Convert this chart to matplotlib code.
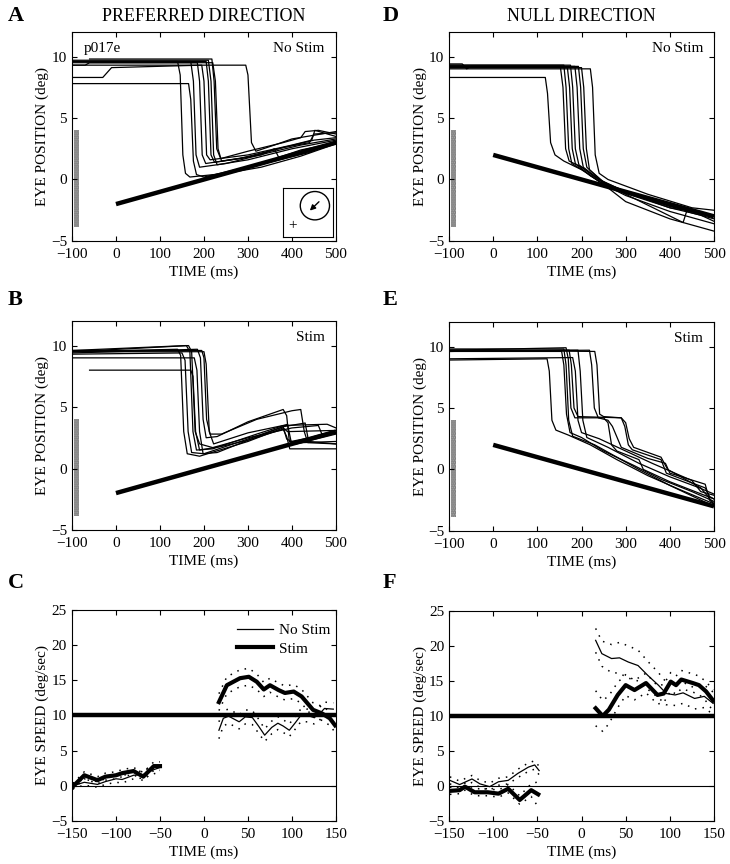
import matplotlib
matplotlib.use("Agg")
import matplotlib.pyplot as plt
from matplotlib.patches import Circle, Rectangle

plt.rcParams["font.family"] = ["Liberation Serif", "DejaVu Serif"]
plt.rcParams["font.size"] = 11
plt.rcParams["axes.linewidth"] = 0.8
plt.rcParams["xtick.direction"] = "in"
plt.rcParams["ytick.direction"] = "in"
plt.rcParams["xtick.top"] = True
plt.rcParams["ytick.right"] = True
plt.rcParams["xtick.major.pad"] = 5
plt.rcParams["hatch.linewidth"] = 1.2

# ---- eye position traces, knots (time ms, position deg) ----
A_TRACES = [
    [(-100, 9.6), (140, 9.6), (146, 8.5), (152, 2.0), (158, 0.5), (168, 0.2), (250, 0.5), (330, 1.0), (420, 1.9), (500, 2.9)],
    [(-100, 7.8), (165, 7.8), (170, 6.5), (176, 1.5), (183, 0.4), (200, 0.2), (260, 0.7), (360, 1.5), (440, 2.2), (500, 3.1)],
    [(-100, 9.6), (170, 9.6), (176, 8.0), (182, 2.0), (190, 1.0), (250, 1.3), (350, 2.2), (420, 2.8), (500, 3.3)],
    [(-100, 9.3), (-70, 9.3), (-60, 9.5), (185, 9.5), (190, 8.0), (196, 2.0), (204, 1.3), (280, 1.7), (380, 2.6), (440, 3.0), (450, 3.7), (500, 3.8)],
    [(-100, 8.3), (-30, 8.3), (-10, 9.1), (195, 9.3), (200, 8.0), (206, 2.0), (214, 1.6), (300, 2.0), (400, 2.8), (445, 3.2), (452, 4.0), (500, 3.5)],
    [(-100, 9.6), (205, 9.6), (210, 8.0), (216, 2.0), (224, 1.4), (300, 1.8), (380, 2.6), (450, 3.2), (500, 3.4)],
    [(-100, 9.7), (210, 9.7), (216, 8.0), (222, 2.0), (230, 1.2), (300, 1.6), (400, 2.5), (500, 3.2)],
    [(-60, 9.8), (218, 9.8), (223, 8.0), (229, 2.5), (238, 1.7), (300, 2.3), (380, 3.0), (420, 3.4), (430, 3.9), (460, 4.0), (500, 3.7)],
    [(-100, 9.3), (295, 9.3), (300, 8.5), (308, 3.0), (318, 2.3), (360, 2.8), (400, 3.3), (500, 3.9)],
    [(-100, 9.5), (220, 9.5), (226, 8.0), (232, 2.5), (240, 1.5), (330, 2.0), (360, 2.5), (370, 1.8), (420, 2.4), (500, 3.0)],
]

B_TRACES = [
    [(-100, 9.5), (140, 9.7), (147, 9.2), (154, 3.0), (162, 1.2), (190, 1.0), (300, 2.2), (380, 3.3), (390, 3.0), (500, 3.1)],
    [(-100, 9.3), (150, 9.4), (157, 8.8), (164, 3.0), (172, 1.3), (200, 1.2), (300, 2.4), (380, 3.4), (388, 2.4), (410, 2.0), (500, 2.8)],
    [(-100, 9.6), (160, 10.0), (168, 9.5), (175, 3.0), (183, 1.5), (220, 1.6), (320, 2.8), (390, 3.6), (398, 2.2), (440, 2.5), (500, 3.1)],
    [(-100, 9.5), (165, 10.0), (172, 9.5), (180, 3.0), (190, 2.0), (220, 1.7), (300, 2.5), (400, 3.3), (460, 3.5), (468, 2.8), (500, 2.9)],
    [(-60, 8.0), (170, 8.0), (175, 7.5), (181, 3.0), (190, 1.5), (240, 1.8), (300, 2.3), (380, 3.2), (388, 2.6), (395, 1.6), (500, 1.6)],
    [(-100, 9.0), (178, 9.0), (184, 8.0), (190, 3.0), (198, 1.2), (230, 1.3), (300, 2.3), (380, 3.4), (430, 3.7), (438, 2.2), (500, 2.0)],
    [(-100, 9.4), (185, 9.7), (192, 9.0), (198, 4.0), (205, 2.5), (230, 2.6), (300, 3.8), (380, 4.8), (388, 4.3), (394, 2.2), (420, 2.1), (500, 2.2)],
    [(-100, 9.6), (195, 9.6), (200, 9.0), (206, 4.0), (214, 2.8), (240, 2.8), (320, 4.0), (400, 4.7), (420, 4.8), (428, 3.0), (436, 2.1), (500, 2.0)],
    [(-100, 9.5), (200, 9.5), (205, 8.5), (212, 3.0), (222, 2.0), (300, 2.9), (380, 3.5), (480, 3.6), (500, 3.3)],
]

D_TRACES = [
    [(-100, 8.3), (118, 8.3), (123, 7.0), (130, 3.0), (140, 2.0), (160, 1.5), (200, 0.8), (250, -0.4), (300, -1.3), (400, -2.6), (500, -3.6)],
    [(-100, 9.2), (152, 9.2), (158, 7.5), (164, 2.5), (172, 1.5), (200, 1.0), (240, 0.0), (300, -1.0), (400, -2.2), (500, -3.0)],
    [(-100, 9.3), (160, 9.3), (165, 7.5), (171, 2.5), (178, 1.3), (210, 0.6), (250, -0.4), (300, -1.8), (400, -3.2), (500, -4.2)],
    [(-100, 9.1), (168, 9.1), (173, 7.5), (179, 2.5), (186, 1.3), (220, 0.3), (260, -0.6), (350, -1.6), (430, -2.4), (500, -3.0)],
    [(-100, 9.4), (-70, 9.4), (-60, 9.0), (-50, 9.2), (185, 9.2), (190, 7.5), (196, 2.5), (204, 1.0), (240, 0.0), (300, -1.2), (430, -3.5), (438, -2.6), (500, -3.2)],
    [(-100, 9.2), (193, 9.2), (198, 7.5), (204, 2.5), (212, 1.0), (250, -0.3), (350, -1.6), (450, -2.6), (500, -2.9)],
    [(-100, 9.0), (220, 9.0), (225, 7.5), (231, 2.0), (240, 0.5), (260, 0.0), (350, -1.2), (450, -2.3), (500, -2.5)],
    [(-100, 9.3), (175, 9.3), (180, 7.5), (186, 2.5), (194, 1.2), (230, 0.2), (280, -0.9), (400, -2.3), (500, -2.9)],
    [(-100, 9.1), (200, 9.1), (205, 7.5), (211, 2.5), (218, 0.8), (250, -0.2), (300, -1.0), (400, -2.3), (470, -2.9), (500, -3.4)],
]

E_TRACES = [
    [(-100, 8.9), (122, 9.0), (127, 8.0), (133, 4.0), (142, 3.2), (170, 2.8), (220, 2.0), (280, 0.8), (350, -0.5), (420, -1.6), (500, -2.8)],
    [(-100, 9.6), (155, 9.6), (160, 8.5), (166, 4.5), (174, 3.0), (200, 2.6), (250, 1.5), (320, 0.3), (380, -0.8), (450, -1.8), (500, -2.6)],
    [(-100, 9.7), (165, 9.9), (170, 9.0), (176, 5.0), (185, 4.2), (250, 4.2), (260, 3.8), (268, 2.0), (280, 1.5), (330, 0.8), (340, 0.0), (400, -1.0), (500, -2.4)],
    [(-100, 9.6), (172, 9.7), (177, 8.5), (183, 5.0), (192, 4.3), (290, 4.2), (298, 3.5), (306, 2.0), (315, 1.6), (380, 0.8), (392, -0.3), (480, -1.5), (490, -2.2), (500, -2.4)],
    [(-100, 9.0), (180, 9.1), (186, 8.0), (192, 4.0), (200, 3.0), (240, 2.5), (300, 1.5), (360, 0.5), (450, -0.9), (470, -1.8), (500, -2.1)],
    [(-100, 9.7), (192, 9.7), (197, 8.0), (203, 4.0), (212, 2.6), (260, 1.8), (330, 0.5), (400, -0.6), (460, -1.4), (500, -2.0)],
    [(-100, 9.6), (218, 9.7), (223, 8.5), (229, 5.0), (238, 4.2), (260, 4.0), (270, 3.5), (290, 1.8), (350, 0.9), (390, 0.5), (400, -0.3), (480, -1.2), (490, -2.5), (500, -2.8)],
    [(-100, 9.7), (230, 9.6), (235, 8.5), (241, 4.5), (250, 4.3), (290, 4.2), (300, 3.8), (308, 2.5), (318, 1.8), (380, 1.0), (395, 0.0), (470, -1.5), (500, -2.8)],
    [(-100, 9.8), (160, 9.8), (165, 8.5), (171, 4.0), (180, 2.7), (230, 2.0), (280, 1.0), (330, 0.0), (400, -1.3), (500, -3.0)],
]

# target trajectories (time, position)
PREF_TARGET = [(0, -2.0), (500, 3.0)]
NULL_TARGET = [(0, 2.0), (500, -3.0)]

# ---- eye speed, panel C (preferred) ----
C_PRE_T = [-149, -136, -121, -112, -100, -93, -80, -69, -57, -50]
C_PRE_STIM = [-0.1, 1.5, 0.8, 1.3, 1.5, 1.8, 2.1, 1.3, 2.8, 2.8]
C_PRE_STIM_SE = [0.4, 0.5, 0.5, 0.5, 0.5, 0.5, 0.5, 0.6, 0.6, 0.6]
C_PRE_NOSTIM = [0.0, 0.5, 0.2, 0.6, 1.0, 0.9, 1.5, 1.6, 2.3, 2.6]
C_PRE_NOSTIM_SE = [0.4, 0.4, 0.4, 0.4, 0.5, 0.5, 0.5, 0.5, 0.6, 0.6]

C_POST_STIM_T = [17, 26, 41, 51, 60, 68, 75, 85, 92, 102, 111, 124, 134, 143, 149]
C_POST_STIM = [11.9, 14.3, 15.3, 15.5, 14.8, 13.7, 14.3, 13.6, 13.2, 13.4, 12.7, 10.8, 10.3, 9.6, 8.6]
C_POST_STIM_SE = [1.2, 1.2, 1.2, 1.2, 1.1, 1.0, 1.0, 1.0, 1.0, 1.0, 1.0, 1.0, 1.0, 1.0, 1.0]
C_POST_NOSTIM_T = [17, 22, 28, 34, 40, 47, 55, 62, 69, 77, 84, 90, 97, 104, 110, 118, 125, 131, 137, 147]
C_POST_NOSTIM = [7.9, 9.6, 9.9, 9.5, 9.1, 9.8, 9.7, 8.5, 7.2, 8.3, 8.9, 8.5, 7.9, 9.0, 10.0, 10.0, 9.7, 10.2, 11.0, 10.9]
C_POST_NOSTIM_SE = [1.2, 1.1, 1.0, 1.0, 1.0, 1.0, 1.0, 1.0, 0.9, 0.9, 0.9, 0.9, 0.9, 0.9, 0.9, 0.9, 0.9, 0.9, 0.9, 0.9]

# ---- eye speed, panel F (null) ----
F_PRE_STIM_T = [-149, -138, -132, -121, -106, -94, -83, -70, -57, -49]
F_PRE_STIM = [-0.7, -0.6, -0.1, -0.9, -0.9, -1.1, -0.4, -2.0, -0.6, -1.2]
F_PRE_STIM_SE = [0.5, 0.5, 0.5, 0.5, 0.5, 0.5, 0.6, 0.6, 0.9, 1.8]
F_PRE_NOSTIM_T = [-149, -138, -124, -115, -104, -94, -83, -72, -60, -53, -48]
F_PRE_NOSTIM = [0.8, 0.2, 1.0, 0.3, -0.1, 0.6, 0.8, 1.8, 2.7, 3.0, 2.2]
F_PRE_NOSTIM_SE = [0.5, 0.5, 0.5, 0.5, 0.5, 0.5, 0.5, 0.6, 0.6, 0.6, 0.6]

F_POST_STIM_T = [16, 24, 31, 41, 50, 60, 73, 86, 93, 101, 107, 113, 126, 133, 141, 149]
F_POST_STIM = [11.1, 10.0, 10.9, 13.0, 14.4, 13.7, 14.7, 13.0, 13.2, 14.9, 14.4, 15.2, 14.7, 14.4, 13.5, 12.2]
F_POST_STIM_SE = [2.5, 2.2, 2.0, 1.8, 1.5, 1.4, 1.4, 1.3, 1.3, 1.3, 1.3, 1.3, 1.3, 1.3, 1.4, 1.5]
F_POST_NOSTIM_T = [16, 23, 34, 43, 53, 64, 75, 87, 96, 106, 115, 128, 139, 149]
F_POST_NOSTIM = [20.8, 18.9, 18.2, 18.3, 17.7, 17.2, 15.8, 14.4, 13.2, 13.0, 13.3, 12.5, 12.8, 11.8]
F_POST_NOSTIM_SE = [1.7, 1.8, 2.0, 2.2, 2.3, 2.2, 2.0, 1.8, 1.6, 1.5, 1.5, 1.5, 1.6, 1.6]

TARGET_SPEED = 10.0
POS_XTICKS = [-100, 0, 100, 200, 300, 400, 500]
POS_YTICKS = [-5, 0, 5, 10]
SPD_XTICKS = [-150, -100, -50, 0, 50, 100, 150]
SPD_YTICKS = [-5, 0, 5, 10, 15, 20, 25]

DOTS = (0, (1, 4))


def draw_position(ax, traces, target, corner_text, tag=None):
    # stippled bar marking the stimulation epoch
    ax.add_patch(Rectangle((-96, -3.9), 11, 7.9, facecolor="#d0d0d0",
                           edgecolor="#555555", hatch="........", linewidth=0))
    for tr in traces:
        ax.plot([p[0] for p in tr], [p[1] for p in tr], color="black", lw=0.9)
    ax.plot([p[0] for p in target], [p[1] for p in target], color="black",
            lw=3.2, solid_capstyle="butt")
    ax.set_xlim(-100, 500)
    ax.set_ylim(-5, 12)
    ax.set_xticks(POS_XTICKS)
    ax.set_yticks(POS_YTICKS)
    ax.set_xlabel("TIME (ms)", labelpad=3)
    ax.set_ylabel("EYE POSITION (deg)", labelpad=1)
    ax.text(0.958, 0.923, corner_text, transform=ax.transAxes,
            ha="right", va="center")
    if tag:
        ax.text(0.046, 0.923, tag, transform=ax.transAxes,
                ha="left", va="center")


def draw_speed_series(ax, t, mean, se, lw):
    ax.plot(t, mean, color="black", lw=lw)
    ax.plot(t, [m + s for m, s in zip(mean, se)], color="black", lw=1.1, ls=DOTS)
    ax.plot(t, [m - s for m, s in zip(mean, se)], color="black", lw=1.1, ls=DOTS)


def draw_speed(ax, pre_nostim, pre_stim, post_nostim, post_stim):
    ax.axhline(0, color="black", lw=0.8)
    ax.axhline(TARGET_SPEED, color="black", lw=3.2)
    for t, m, s in (pre_nostim, post_nostim):
        draw_speed_series(ax, t, m, s, 0.9)
    for t, m, s in (pre_stim, post_stim):
        draw_speed_series(ax, t, m, s, 3.0)
    ax.set_xlim(-150, 150)
    ax.set_ylim(-5, 25)
    ax.set_xticks(SPD_XTICKS)
    ax.set_yticks(SPD_YTICKS)
    ax.set_xlabel("TIME (ms)", labelpad=3)
    ax.set_ylabel("EYE SPEED (deg/sec)", labelpad=1)


fig = plt.figure(figsize=(7.3, 8.64), dpi=100)

L1, L2 = 0.0986, 0.6151
W1, W2 = 0.3616, 0.363
axA = fig.add_axes([L1, 0.7211, W1, 0.2419])
axB = fig.add_axes([L1, 0.3866, W1, 0.2419])
axC = fig.add_axes([L1, 0.0498, W1, 0.2442])
axD = fig.add_axes([L2, 0.7211, W2, 0.2419])
axE = fig.add_axes([L2, 0.3855, W2, 0.2419])
axF = fig.add_axes([L2, 0.0498, W2, 0.2431])

draw_position(axA, A_TRACES, PREF_TARGET, "No Stim", tag="p017e")
draw_position(axB, B_TRACES, PREF_TARGET, "Stim")
draw_position(axD, D_TRACES, NULL_TARGET, "No Stim")
draw_position(axE, E_TRACES, NULL_TARGET, "Stim")

draw_speed(axC,
           (C_PRE_T, C_PRE_NOSTIM, C_PRE_NOSTIM_SE),
           (C_PRE_T, C_PRE_STIM, C_PRE_STIM_SE),
           (C_POST_NOSTIM_T, C_POST_NOSTIM, C_POST_NOSTIM_SE),
           (C_POST_STIM_T, C_POST_STIM, C_POST_STIM_SE))
draw_speed(axF,
           (F_PRE_NOSTIM_T, F_PRE_NOSTIM, F_PRE_NOSTIM_SE),
           (F_PRE_STIM_T, F_PRE_STIM, F_PRE_STIM_SE),
           (F_POST_NOSTIM_T, F_POST_NOSTIM, F_POST_NOSTIM_SE),
           (F_POST_STIM_T, F_POST_STIM, F_POST_STIM_SE))

# legend in C
h1, = axC.plot([], [], color="black", lw=0.9, label="No Stim")
h2, = axC.plot([], [], color="black", lw=3.0, label="Stim")
axC.legend(handles=[h1, h2], loc="upper right", bbox_to_anchor=(1.03, 1.0),
           frameon=False, handlelength=2.3, handletextpad=0.4,
           labelspacing=0.3, fontsize=11)

# target/fixation inset in A
ins = axA.inset_axes([0.798, 0.019, 0.191, 0.234])
ins.set_xlim(0, 1)
ins.set_ylim(0, 1)
ins.set_xticks([])
ins.set_yticks([])
ins.tick_params(top=False, right=False)
ins.add_patch(Circle((0.64, 0.64), 0.29, fill=False, lw=1.0, color="black"))
ins.annotate("", xy=(0.5, 0.5), xytext=(0.76, 0.76),
             arrowprops=dict(arrowstyle="-|>", color="black", lw=1.0,
                             mutation_scale=8))
ins.text(0.2, 0.24, "+", ha="center", va="center", fontsize=11)

# headings and panel letters
fig.text(0.279, 0.981, "PREFERRED DIRECTION", ha="center", va="center", fontsize=13)
fig.text(0.797, 0.981, "NULL DIRECTION", ha="center", va="center", fontsize=13)
for letter, x, y in [("A", 0.011, 0.982), ("B", 0.011, 0.653), ("C", 0.011, 0.325),
                     ("D", 0.524, 0.982), ("E", 0.524, 0.653), ("F", 0.524, 0.325)]:
    fig.text(x, y, letter, ha="left", va="center", fontsize=16, fontweight="bold")

fig.savefig("out.png", dpi=100)
